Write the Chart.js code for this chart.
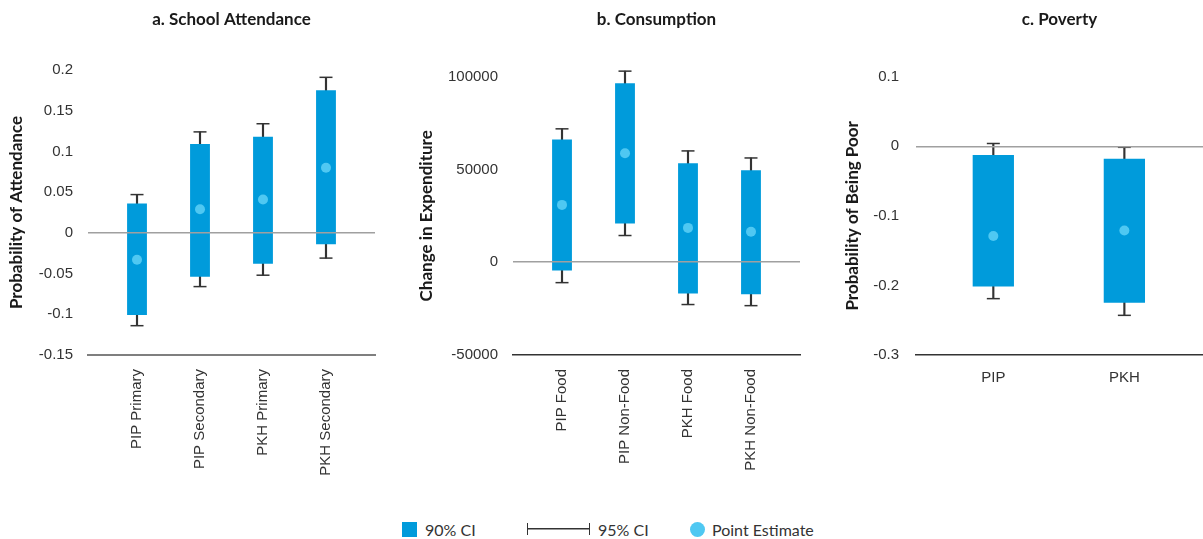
<!DOCTYPE html>
<html>
<head>
<meta charset="utf-8">
<script src="https://cdn.jsdelivr.net/npm/chart.js@4.4.0/dist/chart.umd.min.js"></script>
<style>
  body { margin: 0; background: #fff; width: 1203px; height: 539px; position: relative; overflow: hidden; font-family: Lato, sans-serif; }
  .panel { position: absolute; top: 0; height: 490px; }
  .leg { position: absolute; color: #333; font-size: 16px; line-height: 16px; top: 522px; }
  .sw { position: absolute; top: 522px; width: 15px; height: 15px; }
  #errIcon { position: absolute; top: 523px; left: 527px; width: 61px; height: 12px;
    border-left: 1.5px solid #333; border-right: 1.5px solid #333;
    background: linear-gradient(#333, #333) center / 100% 1.5px no-repeat; }
</style>
</head>
<body>
<div class="panel" style="left:0;width:400px"><canvas id="chartA"></canvas></div>
<div class="panel" style="left:400px;width:420px"><canvas id="chartB"></canvas></div>
<!-- a few px wider than the page: chart.js keeps ~8px on the right here -->
<div class="panel" style="left:820px;width:391px"><canvas id="chartC"></canvas></div>

<div class="sw" style="left:402px;background:#009BDB"></div>
<div class="leg" style="left:425px">90% CI</div>
<div id="errIcon"></div>
<div class="leg" style="left:598px">95% CI</div>
<div class="sw" style="left:690px;background:#4FC8F2;border-radius:50%"></div>
<div class="leg" style="left:712px">Point Estimate</div>

<script>
// a. School Attendance
const attendCats = ['PIP Primary', 'PIP Secondary', 'PKH Primary', 'PKH Secondary'];
const attendPoint = [-0.033, 0.029, 0.041, 0.080];
const attendLo90 = [-0.101, -0.054, -0.038, -0.014];
const attendHi90 = [0.036, 0.109, 0.118, 0.175];
const attendLo95 = [-0.114, -0.066, -0.052, -0.031];
const attendHi95 = [0.047, 0.124, 0.134, 0.191];
const attendTicks = [-0.15, -0.1, -0.05, 0, 0.05, 0.1, 0.15, 0.2];

// b. Consumption
const consCats = ['PIP Food', 'PIP Non-Food', 'PKH Food', 'PKH Non-Food'];
const consPoint = [30900, 58700, 18500, 16400];
const consLo90 = [-4400, 20900, -16800, -17300];
const consHi90 = [66200, 96500, 53300, 49600];
const consLo95 = [-11000, 14400, -22800, -23400];
const consHi95 = [71900, 103000, 60000, 56200];
const consTicks = [-50000, 0, 50000, 100000];

// c. Poverty
const povCats = ['PIP', 'PKH'];
const povPoint = [-0.129, -0.121];
const povLo90 = [-0.2017, -0.225];
const povHi90 = [-0.0125, -0.018];
const povLo95 = [-0.219, -0.243];
const povHi95 = [0.004, -0.0015];
const povTicks = [-0.3, -0.2, -0.1, 0, 0.1];

const barColor = '#009BDB';
const pointColor = '#4FC8F2';
const whiskerColor = '#333';

function makePanel(id, cfg) {
    const xy = vals => vals.map((v, i) => ({ x: i, y: v }));
    const range = (lo, hi) => lo.map((v, i) => ({ x: i, y: [v, hi[i]] }));

    return new Chart(document.getElementById(id), {
        type: 'bar',
        data: {
            datasets: [
                {
                    type: 'line', label: 'Point Estimate', data: xy(cfg.point), order: 0,
                    showLine: false, pointRadius: 5, pointBackgroundColor: pointColor, pointBorderWidth: 0
                },
                {
                    label: '90% CI', data: range(cfg.lo90, cfg.hi90), order: 1, grouped: false,
                    backgroundColor: barColor, categoryPercentage: 1, barPercentage: 0.315
                },
                {
                    // whisker stem, sits behind the 90% bar
                    label: '95% CI', data: range(cfg.lo95, cfg.hi95), order: 2, grouped: false,
                    backgroundColor: whiskerColor, barThickness: 1.5, clip: false
                },
                {
                    type: 'line', label: 'cap low', data: xy(cfg.lo95), order: 3, showLine: false, clip: false,
                    pointStyle: 'line', pointRadius: 6.5, pointBorderColor: whiskerColor, pointBorderWidth: 1.5
                },
                {
                    type: 'line', label: 'cap high', data: xy(cfg.hi95), order: 3, showLine: false, clip: false,
                    pointStyle: 'line', pointRadius: 6.5, pointBorderColor: whiskerColor, pointBorderWidth: 1.5
                }
            ]
        },
        options: {
            responsive: true,
            maintainAspectRatio: false,
            animation: false,
            layout: { padding: { left: 0, right: cfg.padRight, top: 0, bottom: 0 } },
            plugins: {
                legend: { display: false },
                tooltip: { enabled: false },
                title: {
                    display: true, text: cfg.title, fullSize: false, color: '#1a1a1a',
                    font: { family: 'Lato', size: 17, weight: 'bold' },
                    padding: { top: 9.8, bottom: cfg.titleGap }
                }
            },
            scales: {
                x: {
                    type: 'linear',
                    offset: false,
                    min: cfg.xMin, max: cfg.xMax,
                    grid: { display: false, drawTicks: false },
                    border: { display: true, color: cfg.axisColor, width: cfg.axisWidth },
                    afterBuildTicks: s => { s.ticks = cfg.cats.map((c, i) => ({ value: i })); },
                    afterFit: s => { s.height = 135; },
                    ticks: {
                        autoSkip: false,
                        minRotation: cfg.rotate, maxRotation: cfg.rotate,
                        padding: 14, color: '#333',
                        font: { family: 'Liberation Sans', size: 15 },
                        callback: v => cfg.cats[v]
                    }
                },
                y: {
                    min: cfg.ticks[0], max: cfg.ticks[cfg.ticks.length - 1],
                    afterBuildTicks: s => { s.ticks = cfg.ticks.map(v => ({ value: v })); },
                    afterFit: s => { s.width = cfg.yWidth; },
                    border: { display: false },
                    grid: {
                        z: 1, drawTicks: false, lineWidth: 1.5,
                        color: c => (c.tick && c.tick.value === 0) ? '#a0a0a0' : 'rgba(0,0,0,0)'
                    },
                    ticks: {
                        padding: cfg.tickPad, color: '#333',
                        font: { family: 'Liberation Sans', size: 15 },
                        callback: v => String(v)
                    },
                    title: {
                        display: true, text: cfg.yTitle, color: '#1a1a1a',
                        font: { family: 'Lato', size: 17, weight: 'bold' },
                        padding: { top: cfg.yTitlePad, bottom: 0 }
                    }
                }
            }
        }
    });
}

makePanel('chartA', {
    title: 'a. School Attendance', yTitle: 'Probability of Attendance',
    cats: attendCats, point: attendPoint, lo90: attendLo90, hi90: attendHi90, lo95: attendLo95, hi95: attendHi95,
    ticks: attendTicks, xMin: -0.778, xMax: 3.778, rotate: 90,
    padRight: 25, yWidth: 88, tickPad: 15, yTitlePad: 6.3, titleGap: 39.8,
    axisColor: '#7f7f7f', axisWidth: 2
});

makePanel('chartB', {
    title: 'b. Consumption', yTitle: 'Change in Expenditure',
    cats: consCats, point: consPoint, lo90: consLo90, hi90: consHi90, lo95: consLo95, hi95: consHi95,
    ticks: consTicks, xMin: -0.778, xMax: 3.778, rotate: 90,
    padRight: 20, yWidth: 113, tickPad: 15, yTitlePad: 16.3, titleGap: 46.5,
    axisColor: '#333', axisWidth: 1.5
});

makePanel('chartC', {
    title: 'c. Poverty', yTitle: 'Probability of Being Poor',
    cats: povCats, point: povPoint, lo90: povLo90, hi90: povHi90, lo95: povLo95, hi95: povHi95,
    ticks: povTicks, xMin: -0.59, xMax: 1.6, rotate: 0,
    padRight: 0, yWidth: 96, tickPad: 17, yTitlePad: 22.3, titleGap: 46.5,
    axisColor: '#333', axisWidth: 1.5
});
</script>
</body>
</html>
